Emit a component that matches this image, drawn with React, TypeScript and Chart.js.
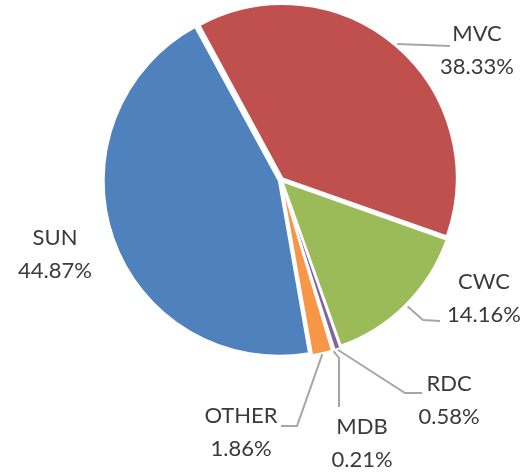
import React, { useEffect, useRef } from "react";
import { Chart, registerables } from "chart.js";

Chart.register(...registerables);

const categories = ["SUN", "MVC", "CWC", "RDC", "MDB", "OTHER"];
const shares = [44.87, 38.33, 14.16, 0.58, 0.21, 1.86];
const percentLabels = ["44.87%", "38.33%", "14.16%", "0.58%", "0.21%", "1.86%"];

const sliceColors = ["#4F81BD", "#C0504D", "#9BBB59", "#8064A2", "#4BACC6", "#F79646"];

// label placement (text centre of first line) and leader bends, per slice
const labelAnchors = [
  { x: 55, y: 238, leader: [] as number[][] },
  { x: 477, y: 34, leader: [[450, 46]] },
  { x: 484, y: 282, leader: [[423, 320], [440, 321]] },
  { x: 449, y: 384, leader: [[405, 393], [422, 393]] },
  { x: 362, y: 427, leader: [[339, 358], [339, 407]] },
  { x: 241, y: 416, leader: [[297, 426], [281, 426]] },
];

const labelPlugin = {
  id: "outsideLabels",
  afterDatasetsDraw(chart: any) {
    const ctx = chart.ctx;
    const meta = chart.getDatasetMeta(0);
    ctx.save();
    meta.data.forEach((arc: any, i: number) => {
      const a = labelAnchors[i];
      if (a.leader.length) {
        const mid = (arc.startAngle + arc.endAngle) / 2;
        const r = arc.outerRadius + 6;
        const sx = arc.x + Math.cos(mid) * r;
        const sy = arc.y + Math.sin(mid) * r;
        ctx.beginPath();
        ctx.moveTo(sx, sy);
        a.leader.forEach((p) => ctx.lineTo(p[0], p[1]));
        ctx.strokeStyle = "#A6A6A6";
        ctx.lineWidth = 2;
        ctx.stroke();
      }
      ctx.fillStyle = "#3A3A3A";
      ctx.font = "22px Lato";
      ctx.textAlign = "center";
      ctx.textBaseline = "middle";
      ctx.fillText(categories[i], a.x, a.y);
      ctx.fillText(percentLabels[i], a.x, a.y + 33);
    });
    ctx.restore();
  },
};

export default function App() {
  const ref = useRef<HTMLCanvasElement>(null);
  useEffect(() => {
    if (!ref.current) return;
    const chart = new Chart(ref.current, {
      type: "pie",
      data: {
        labels: categories,
        datasets: [
          {
            data: shares,
            backgroundColor: sliceColors,
            borderColor: "#FFFFFF",
            borderWidth: 1.5,
            offset: 10,
            hoverOffset: 0,
          },
        ],
      },
      options: {
        animation: false,
        responsive: true,
        maintainAspectRatio: false,
        rotation: 170,
        radius: 173,
        layout: { padding: { left: 36, right: 0, top: 0, bottom: 114 } },
        plugins: {
          legend: { display: false },
          tooltip: { enabled: false },
        },
        events: [],
      } as any,
      plugins: [labelPlugin],
    });
    return () => chart.destroy();
  }, []);
  return (
    <div style={{ position: "fixed", left: 0, top: 0, width: 526, height: 474, background: "#fff" }}>
      <canvas ref={ref} />
    </div>
  );
}
